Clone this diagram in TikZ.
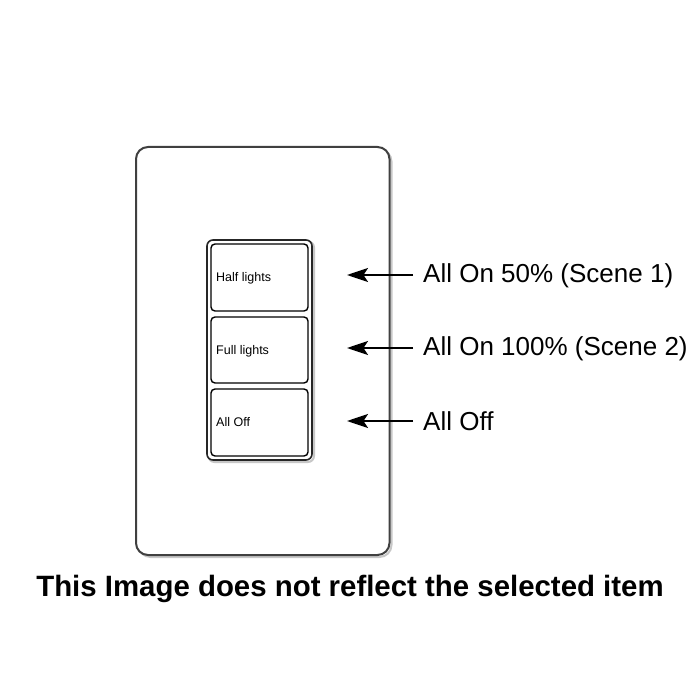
\documentclass[tikz,border=0pt]{standalone}
\usepackage{fontspec}
\setmainfont{Liberation Sans}
\usetikzlibrary{arrows.meta}
\begin{document}
\begin{tikzpicture}[x=1pt,y=-1pt,
  plate/.style={draw=black!75,line width=2pt,rounded corners=12pt},
  shadow/.style={draw=black!22,line width=2pt},
  frame/.style={draw=black!85,line width=1.6pt,rounded corners=6pt},
  button/.style={draw=black,line width=1.4pt,rounded corners=4pt},
  btnlabel/.style={font=\fontsize{12.5}{14}\selectfont,anchor=west,inner sep=0pt},
  label/.style={font=\fontsize{26}{30}\selectfont,anchor=west,inner sep=0pt},
  pointer/.style={-{Stealth[length=21pt,width=14pt,inset=4.5pt]},line width=1.9pt,black}
]
\useasboundingbox (0,0) rectangle (700,700);
% plate
\draw[shadow,rounded corners=12pt] (138.5,149.5) rectangle (391.5,557);
\draw[plate,fill=white] (136,147) rectangle (389.5,555);
% switch frame
\draw[shadow,rounded corners=6pt] (208.5,241.5) rectangle (314,462);
\draw[frame,fill=white] (207,240) rectangle (312,460);
\node[button,minimum width=97pt,minimum height=67pt,inner sep=0pt] (b1) at (259.5,277.5) {};
\node[button,minimum width=97pt,minimum height=66pt,inner sep=0pt] (b2) at (259.5,350) {};
\node[button,minimum width=97pt,minimum height=67pt,inner sep=0pt] (b3) at (259.5,422.5) {};
\node[btnlabel] (t1) at (216,278) {Half lights};
\node[btnlabel] (t2) at (216,351) {Full lights};
\node[btnlabel] (t3) at (216,422) {All Off};
% labels
\node[label] (l1) at (423,275.5) {All On 50\% (Scene 1)};
\node[label] (l2) at (423,348.5) {All On 100\% (Scene 2)};
\node[label] (l3) at (423,421.5) {All Off};
\coordinate (s1) at (413,275);
\coordinate (s2) at (413,348);
\coordinate (s3) at (413,421);
\coordinate (a1) at (347,275);
\coordinate (a2) at (347,348);
\coordinate (a3) at (347,421);
\draw[pointer] (s1) -- (a1);
\draw[pointer] (s2) -- (a2);
\draw[pointer] (s3) -- (a3);
% caption
\node[font=\bfseries\fontsize{29.4}{34}\selectfont,inner sep=0pt] (cap) at (350,589) {This Image does not reflect the selected item};
\end{tikzpicture}
\end{document}
